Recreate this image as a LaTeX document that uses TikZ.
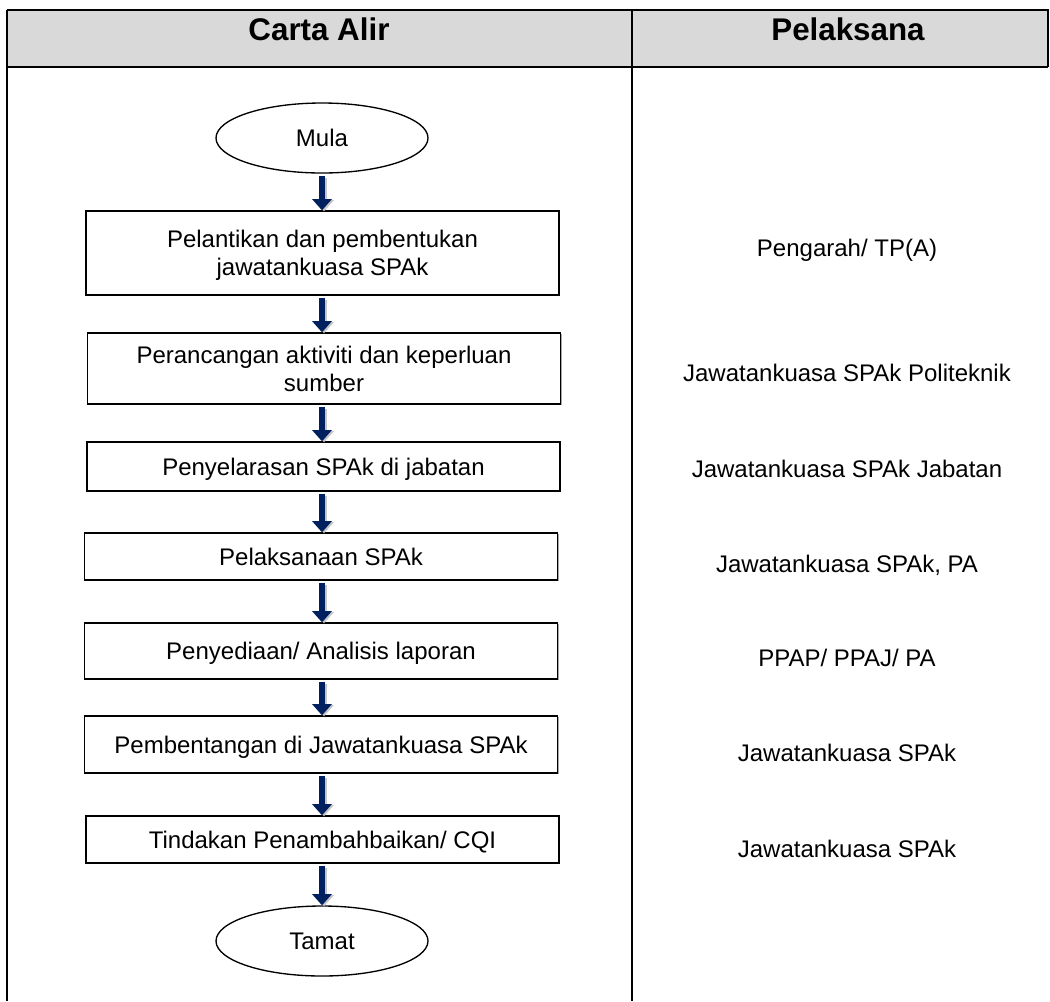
\documentclass[tikz,border=0pt]{standalone}
\usepackage{fontspec}
\setmainfont{Liberation Sans}
\usetikzlibrary{arrows.meta,shapes.geometric,shadows}
\definecolor{navy}{RGB}{0,32,96}
\definecolor{hdrgray}{RGB}{217,217,217}
\begin{document}
\begin{tikzpicture}[x=0.75pt,y=-0.75pt,
  txt/.style={font=\fontsize{18}{21}\selectfont, inner sep=0pt, text depth=0pt},
  hdr/.style={font=\fontsize{23.5}{27}\selectfont\bfseries, inner sep=0pt},
  stepbox/.style={draw, line width=1pt, rectangle, align=center, txt, fill=white,
    minimum width=354.75pt, drop shadow={shadow xshift=1pt, shadow yshift=-1pt, fill=gray!70, opacity=1}},
  term/.style={draw, line width=1pt, ellipse, minimum width=159pt, minimum height=52.5pt, txt, fill=white},
  flow/.style={navy, line width=4.5pt, -{Triangle[width=14.5pt,length=8.5pt]}},
  flowshadow/.style={gray!45, line width=4.5pt, -{Triangle[width=14.5pt,length=8.5pt]}},
  tline/.style={line width=1.5pt}
]
\useasboundingbox (0,0) rectangle (1050,1001);
% table
\fill[hdrgray] (7,10) rectangle (1048,67);
\draw[tline] (7,10) -- (1048,10) -- (1048,67);
\draw[line width=2pt] (7,67) -- (1048,67);
\draw[tline] (7,10) -- (7,1001);
\draw[tline] (632,10) -- (632,1001);
\node[hdr] (h1) at (319,29) {Carta Alir};
\node[hdr] (h2) at (848,29) {Pelaksana};
% flow
\node[term] (mula) at (322,138) {Mula};
\node[stepbox, minimum height=63pt] (b1) at (322.5,253) {Pelantikan dan pembentukan\\jawatankuasa SPAk};
\node[stepbox, minimum height=53.25pt] (b2) at (324,368.5) {Perancangan aktiviti dan keperluan\\sumber};
\node[stepbox, minimum height=36.75pt] (b3) at (323.5,466.5) {Penyelarasan SPAk di jabatan};
\node[stepbox, minimum height=35.25pt] (b4) at (321,556.5) {Pelaksanaan SPAk};
\node[stepbox, minimum height=42pt] (b5) at (321,651) {Penyediaan/ Analisis laporan};
\node[stepbox, minimum height=42.75pt] (b6) at (321,744.5) {Pembentangan di Jawatankuasa SPAk};
\node[stepbox, minimum height=35.25pt] (b7) at (322.5,839.5) {Tindakan Penambahbaikan/ CQI};
\node[term] (tamat) at (322,941) {Tamat};
% arrows
\foreach \a/\b in {mula/b1,b1/b2,b2/b3,b3/b4,b4/b5,b5/b6,b6/b7,b7/tamat}{
  \draw[flowshadow] ([shift={(2,4)}]\a.south -| 322,0) -- ([shift={(2,1)}]\b.north -| 322,0);
  \draw[flow] ([yshift=-1.5pt]\a.south -| 322,0) -- (\b.north -| 322,0);
}
% right column
\node[txt] (p1) at (847,248) {Pengarah/ TP(A)};
\node[txt] (p2) at (847,373) {Jawatankuasa SPAk Politeknik};
\node[txt] (p3) at (847,469) {Jawatankuasa SPAk Jabatan};
\node[txt] (p4) at (847,564) {Jawatankuasa SPAk, PA};
\node[txt] (p5) at (847,658) {PPAP/ PPAJ/ PA};
\node[txt] (p6) at (847,753) {Jawatankuasa SPAk};
\node[txt] (p7) at (847,849) {Jawatankuasa SPAk};
\end{tikzpicture}
\end{document}
